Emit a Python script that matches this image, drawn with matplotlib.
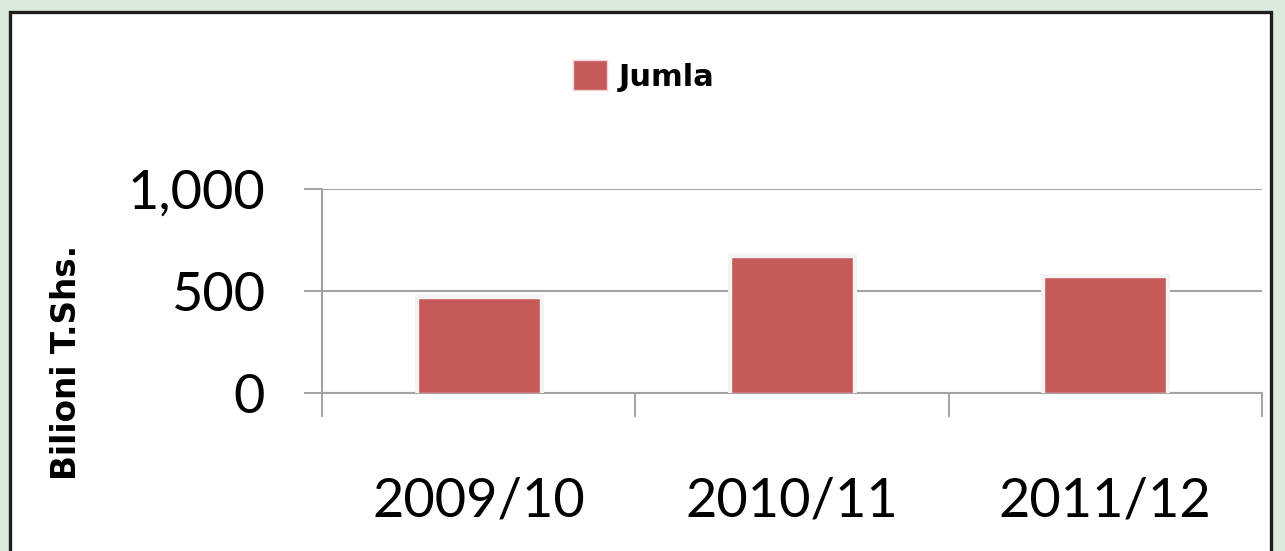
import matplotlib.pyplot as plt
import matplotlib.patheffects as pe
from matplotlib.patches import Rectangle
import numpy as np

# values (Bilioni T.Shs.)
years = ['2009/10', '2010/11', '2011/12']
jumla = [466, 668, 570]
yticks = [0, 500, 1000]
ytick_labels = ['0', '500', '1,000']

bar_col = '#C55A59'
grid_col = '#A3A3A3'

fig = plt.figure(figsize=(12.85, 5.51), dpi=100)
fig.patch.set_facecolor('#DAEBDC')
# white panel with dark border
fig.patches.append(Rectangle((10 / 1285, -0.02), 1261 / 1285, 1 - 12 / 551 + 0.02,
                             transform=fig.transFigure, facecolor='white',
                             edgecolor='#1E1E1E', linewidth=2.4, zorder=-5))

ax = fig.add_axes([322 / 1285, 1 - 393 / 551, (1262 - 322) / 1285, (393 - 189) / 551])
ax.set_zorder(2)
ax.patch.set_alpha(0)

x = np.arange(len(years))
bars = ax.bar(x, jumla, width=0.39, color=bar_col, edgecolor='#F4F4F4', linewidth=1.0,
              label='Jumla', zorder=3)
# faint glow around the bars
for b in bars:
    b.set_path_effects([pe.Stroke(linewidth=5, foreground='#F3F3F3'), pe.Normal()])

ax.set_ylim(0, 1000)
ax.set_xlim(-0.5, len(years) - 0.5)
ax.set_yticks(yticks)
ax.set_yticklabels(ytick_labels, fontfamily='Lato', fontsize=39)
ax.tick_params(axis='y', length=13, width=1.4, color=grid_col, pad=28)
ax.yaxis.grid(True, color=grid_col, linewidth=1.5, zorder=1)
ax.set_axisbelow(True)

ax.set_xticks(x)
ax.set_xticklabels(years, fontfamily='Lato', fontsize=39)
ax.set_xticks(np.arange(-0.5, len(years)), minor=True)
ax.tick_params(axis='x', which='major', length=0, pad=60)
ax.tick_params(axis='x', which='minor', length=17, width=1.4, color=grid_col)

for s in ['top', 'right']:
    ax.spines[s].set_visible(False)
for s in ['left', 'bottom']:
    ax.spines[s].set_color(grid_col)
    ax.spines[s].set_linewidth(1.5)

fig.text(67 / 1285, 1 - 362 / 551, 'Bilioni T.Shs.', rotation=90, ha='center', va='center',
         fontsize=23.5, fontweight='bold', family='DejaVu Sans', zorder=3)

leg = fig.legend(loc='center', bbox_to_anchor=(644 / 1285, 1 - 76 / 551), frameon=False,
                 prop={'family': 'DejaVu Sans', 'weight': 'bold', 'size': 22},
                 handlelength=1.1, handleheight=1.1, handletextpad=0.4)
leg.set_zorder(3)
for h in leg.legend_handles:
    h.set_path_effects([])
    h.set_edgecolor('#F0D0D0')

fig.savefig('out.png', dpi=100, facecolor=fig.get_facecolor())
